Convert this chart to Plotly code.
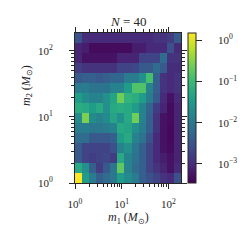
import numpy as np
import plotly.graph_objects as go

# log10 of the density in each (m1, m2) bin; rows from smallest m2 (bottom) to largest m2 (top),
# columns from smallest m1 to largest m1
log10_density = [
    [0.17, -1.46, -1.94, -2.37, -2.19, -2.01, -1.46, -1.72, -1.94, -2.37, -2.55, -2.73, -2.92, -3.02, -2.55],
    [-1.28, -1.65, -2.37, -2.81, -2.44, -2.01, -0.74, -1.83, -2.19, -2.37, -2.73, -2.92, -3.10, -3.28, -3.02],
    [-2.44, -2.73, -2.81, -2.73, -2.66, -2.81, -1.28, -1.83, -2.08, -2.37, -2.73, -3.02, -3.17, -3.28, -3.10],
    [-2.44, -2.73, -2.73, -2.73, -2.73, -2.55, -1.83, -1.65, -2.01, -2.37, -2.73, -3.02, -3.28, -3.35, -3.10],
    [-2.19, -2.19, -2.44, -2.44, -2.44, -2.37, -1.46, -1.28, -1.83, -2.08, -2.55, -3.02, -3.28, -3.39, -3.10],
    [-1.94, -1.94, -2.01, -2.01, -1.94, -1.83, -1.28, -1.35, -1.65, -1.94, -2.37, -2.92, -3.28, -3.39, -3.10],
    [-1.72, -0.56, -1.72, -1.83, -1.72, -1.35, -1.65, -1.28, -0.63, -1.83, -2.37, -2.92, -3.28, -3.35, -3.10],
    [-1.21, -1.28, -1.46, -1.28, -1.65, -1.28, -1.21, -1.28, -1.46, -1.83, -2.30, -2.81, -3.10, -3.35, -3.10],
    [-1.46, -1.72, -1.83, -1.83, -1.65, -1.35, -0.63, -1.10, -1.21, -1.46, -1.94, -2.44, -3.02, -3.28, -3.02],
    [-1.94, -1.94, -2.08, -2.08, -2.08, -1.83, -1.83, -1.46, -0.85, -0.85, -1.83, -2.37, -2.92, -3.02, -2.92],
    [-2.44, -2.37, -2.37, -2.44, -2.37, -2.26, -2.26, -1.94, -1.94, -1.65, -0.92, -2.37, -2.92, -3.02, -2.92],
    [-2.81, -2.92, -2.92, -2.92, -2.92, -2.92, -2.73, -2.73, -2.66, -2.44, -2.44, -2.19, -2.44, -2.99, -2.99],
    [-3.10, -3.28, -3.28, -3.28, -3.28, -3.28, -3.10, -3.10, -3.10, -2.73, -2.73, -2.73, -2.19, -2.92, -2.92],
    [-3.10, -3.17, -3.35, -3.35, -3.35, -3.35, -3.35, -3.35, -3.17, -3.17, -3.02, -3.02, -3.02, -2.55, -3.02],
    [-2.55, -2.99, -3.02, -3.02, -3.02, -3.02, -3.02, -3.02, -3.02, -3.02, -3.02, -2.92, -2.92, -2.81, -2.44],
]

# mass bin edges (log-spaced, in solar masses)
log10_mass_min = 0.0
log10_mass_max = 2.27
n_bins = 15
mass_edges = 10 ** np.linspace(log10_mass_min, log10_mass_max, n_bins + 1)

color_min = -3.46
color_max = 0.17

axis_tickvals = [1, 10, 100]
axis_ticktext = ["10<sup>0</sup>", "10<sup>1</sup>", "10<sup>2</sup>"]
minor_tickvals = [k * 10 ** d for d in (0, 1) for k in range(2, 10)]
cbar_tickvals = [-3, -2, -1, 0]
pad = "\u00a0" * 5
cbar_ticktext = [pad + "10<sup>\u22123</sup>", pad + "10<sup>\u22122</sup>",
                 pad + "10<sup>\u22121</sup>", pad + "10<sup>0</sup>"]

title_text = "<i>N</i> = 40"
xlabel = "<i>m</i><sub>1</sub> (<i>M</i><sub>\u2299</sub>)"
ylabel = "<i>m</i><sub>2</sub> (<i>M</i><sub>\u2299</sub>)"

ink = "#262626"
font_family = "Liberation Serif"

fig = go.Figure(
    go.Heatmap(
        x=mass_edges,
        y=mass_edges,
        z=log10_density,
        colorscale="Viridis",
        zmin=color_min,
        zmax=color_max,
        colorbar=dict(
            thickness=8,
            thicknessmode="pixels",
            len=1,
            lenmode="fraction",
            x=1.066,
            xanchor="left",
            xpad=0,
            ypad=0,
            y=0.5,
            yanchor="middle",
            outlinewidth=1,
            outlinecolor=ink,
            ticks="outside",
            ticklen=6,
            tickcolor=ink,
            tickvals=cbar_tickvals,
            ticktext=cbar_ticktext,
            tickfont=dict(family=font_family, size=11, color=ink),
        ),
    )
)

axis_common = dict(
    type="log",
    range=[log10_mass_min, log10_mass_max],
    automargin=False,
    showgrid=False,
    zeroline=False,
    showline=True,
    linecolor=ink,
    linewidth=1,
    mirror="ticks",
    ticks="outside",
    ticklen=5,
    tickwidth=1,
    tickcolor=ink,
    tickmode="array",
    tickvals=axis_tickvals,
    ticktext=axis_ticktext,
    tickfont=dict(family=font_family, size=11, color=ink),
    minor=dict(ticks="outside", ticklen=3, tickwidth=1, tickcolor=ink,
               tickmode="array", tickvals=minor_tickvals, showgrid=False),
)

fig.update_xaxes(**axis_common, ticklabelstandoff=6)
fig.update_yaxes(**axis_common, ticklabelstandoff=14)

fig.update_layout(
    width=250,
    height=250,
    margin=dict(l=67, r=77, t=25, b=75, autoexpand=False),
    paper_bgcolor="white",
    plot_bgcolor="white",
    font=dict(family=font_family, size=11, color=ink),
    annotations=[
        dict(text=title_text, x=0.5, y=1, xref="paper", yref="paper",
             xanchor="center", yanchor="bottom", yshift=2, showarrow=False,
             font=dict(family=font_family, size=13, color=ink)),
        dict(text=xlabel, x=0.5, y=-0.23, xref="paper", yref="paper",
             xanchor="center", yanchor="middle", showarrow=False,
             font=dict(family=font_family, size=12, color=ink)),
        dict(text=ylabel, x=-0.453, y=0.653, xref="paper", yref="paper",
             xanchor="center", yanchor="middle", textangle=-90, showarrow=False,
             font=dict(family=font_family, size=12, color=ink)),
    ],
)

fig.write_html("out.html")
